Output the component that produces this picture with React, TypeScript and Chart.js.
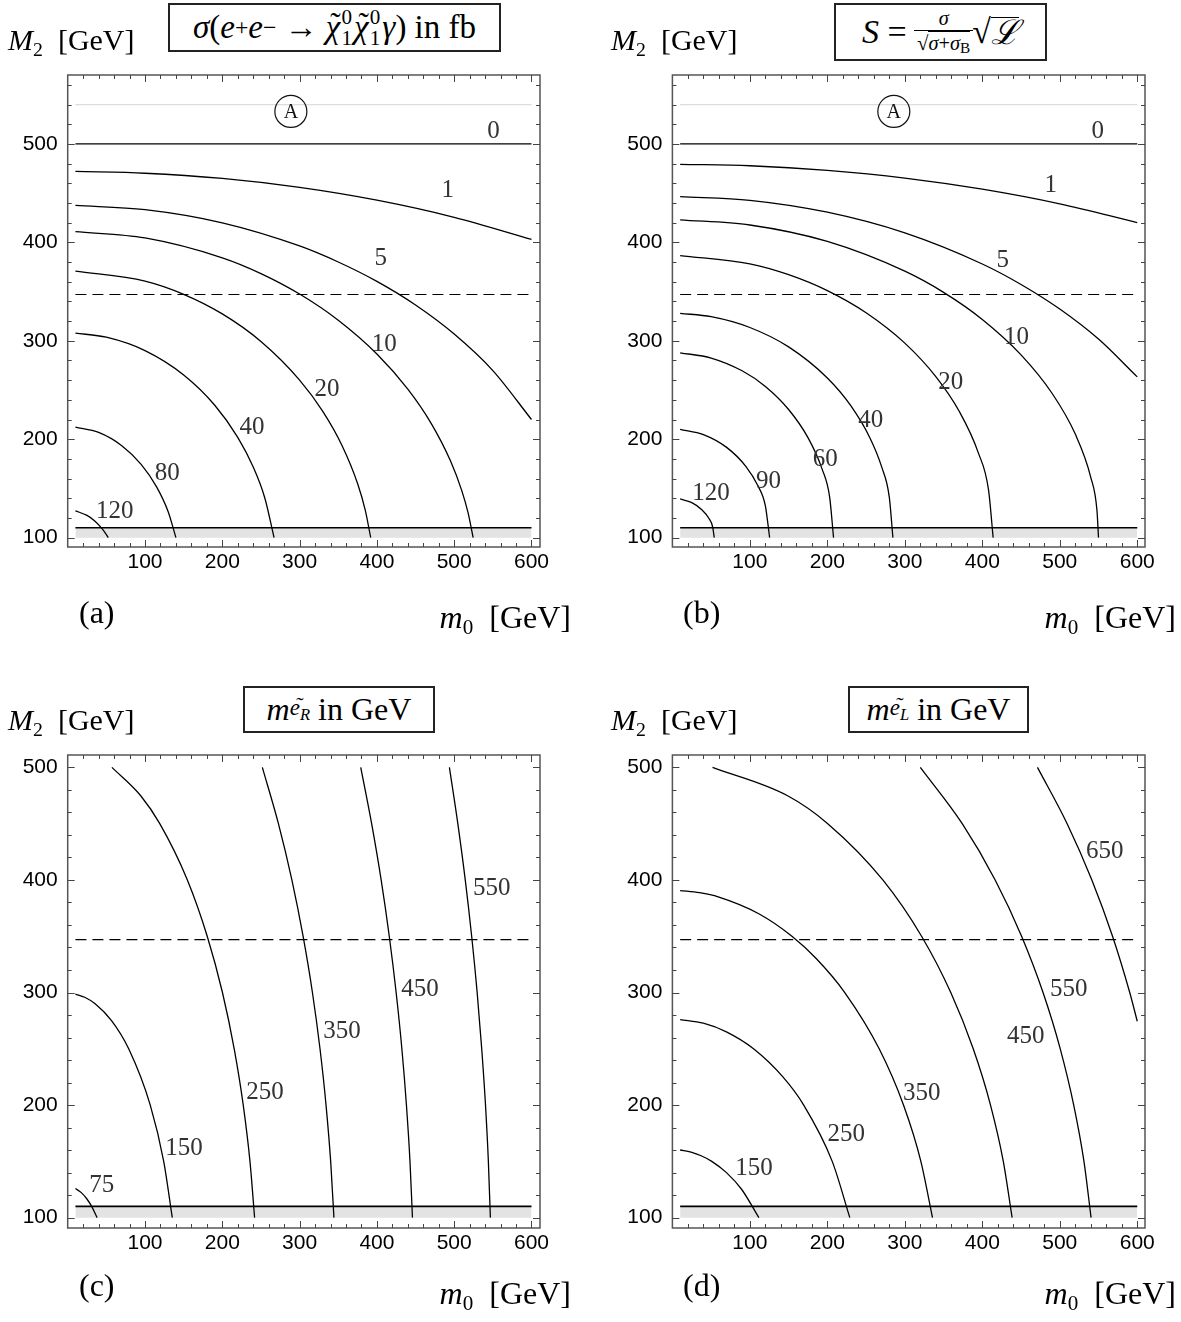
import React, { useEffect, useRef } from 'react';
import { Chart, registerables } from 'chart.js';

Chart.register(...registerables);

type Pt = [number, number];

// ---------------- axes ----------------
const X_TICKS = [100, 200, 300, 400, 500, 600];
const Y_TICKS = [100, 200, 300, 400, 500];

// ---------------- shared reference lines ----------------
const LINE_DASH: Pt[] = [[10, 347], [600, 347]];
const LINE_540: Pt[] = [[10, 540], [600, 540]];
const LINE_110: Pt[] = [[10, 110], [600, 110]];
const BAND_BASE = 100;

// ---------------- panel (a): sigma(e+e- -> chi chi gamma) in fb ----------------
const A_C0: Pt[] = [[10, 500], [600, 500]];
const A_C1: Pt[] = [[10, 472], [100, 470.2], [200, 464.9], [300, 455.8], [400, 442.8], [500, 425.4], [600, 403]];
const A_C5: Pt[] = [[10, 437.5], [100, 433.2], [200, 419.8], [300, 396.3], [350, 380], [400, 360.3], [450, 336.3], [500, 306.8], [550, 269.7], [600, 220]];
const A_C10: Pt[] = [[10, 410.9], [100, 404.5], [200, 384.3], [250, 368.3], [300, 347.5], [350, 320.9], [400, 286.6], [440, 250.9], [470, 216.4], [495, 178.3], [510, 147.3], [518, 125.1], [524.5, 100]];
const A_C20: Pt[] = [[10, 370.8], [100, 360.6], [150, 347.2], [200, 327.3], [250, 299.3], [300, 260.1], [330, 228.3], [355, 193.4], [375, 155], [385, 127.7], [392, 100]];
const A_C40: Pt[] = [[10, 307.8], [50, 303.6], [100, 290], [150, 265.3], [190, 234.8], [220, 201.9], [240, 171.7], [255, 140.3], [267, 100]];
const A_C80: Pt[] = [[10, 212.2], [40, 206.9], [70, 193.4], [95, 174.4], [115, 151.6], [130, 126.3], [140, 100]];
const A_C120: Pt[] = [[10, 127.2], [25, 122.6], [35, 117], [45, 108.7], [52.5, 100]];
const A_LABELS = ['0', '1', '5', '10', '20', '40', '80', '120'];
const A_LABEL_AT: Pt[] = [[551, 512.9], [491.7, 452.8], [405.1, 383.6], [409.5, 296.1], [335.3, 250.3], [238.3, 211.7], [128.9, 165.5], [60.8, 126.5]];
const A_CIRCLE_AT: Pt = [288.7, 533];

// ---------------- panel (b): significance S ----------------
const B_C0: Pt[] = [[10, 500], [600, 500]];
const B_C1: Pt[] = [[10, 479.3], [100, 477.8], [200, 473.1], [300, 465.3], [400, 454], [500, 439.1], [600, 420]];
const B_C5: Pt[] = [[10, 446.5], [100, 442.7], [200, 430.6], [300, 409.6], [400, 378], [450, 357.2], [500, 332.2], [550, 301.7], [600, 263.3]];
const B_C10: Pt[] = [[10, 422.9], [100, 417.6], [200, 400.9], [300, 370.7], [350, 349.2], [400, 321.7], [450, 285.7], [490, 246.7], [520, 205.2], [540, 161.3], [548, 127.6], [550, 100]];
const B_C20: Pt[] = [[10, 386.6], [100, 378.2], [150, 367.2], [200, 351], [250, 328.5], [300, 297.6], [340, 263.6], [370, 228.6], [395, 185.9], [408, 148.7], [414, 100]];
const B_C40: Pt[] = [[10, 327.9], [50, 324.5], [100, 313.5], [150, 293.8], [200, 262.2], [230, 234.3], [255, 201.3], [270, 172.1], [280, 140.9], [284.6, 100]];
const B_C60: Pt[] = [[10, 287.8], [50, 282.5], [90, 269.5], [120, 253.6], [150, 230.2], [175, 201.6], [193, 170.1], [203, 141], [208, 100]];
const B_C90: Pt[] = [[10, 210.1], [40, 204.7], [70, 191.7], [95, 172.2], [110, 153.2], [120, 132.3], [125.5, 100]];
const B_C120: Pt[] = [[10, 139.3], [25, 135.5], [38, 128.4], [47, 119.7], [52, 110.8], [54, 100]];
const B_LABELS = ['0', '1', '5', '10', '20', '40', '60', '90', '120'];
const B_LABEL_AT: Pt[] = [[549, 512.9], [488.4, 457.9], [426.5, 381.6], [444, 303.2], [359.4, 257.4], [256.1, 218.7], [197.4, 179.1], [124.1, 157], [49.7, 145.2]];
const B_CIRCLE_AT: Pt = [285.8, 533];

// ---------------- panel (c): m(e_R) in GeV ----------------
const C_C75: Pt[] = [[10, 125.9], [17.9, 122], [24.4, 117], [31, 110], [38, 100]];
const C_C150: Pt[] = [[10, 298.6], [22, 295.8], [35.5, 290], [56.7, 275], [78.9, 250], [106.8, 200], [124.2, 150], [135.3, 100]];
const C_C250: Pt[] = [[57.2, 500], [94.2, 475], [119.1, 450], [154.8, 400], [180.5, 350], [200.2, 300], [215.4, 250], [227.1, 200], [235.8, 150], [241.8, 100]];
const C_C350: Pt[] = [[251.8, 500], [272.6, 450], [290, 400], [304.5, 350], [316.6, 300], [326.4, 250], [334.2, 200], [340.2, 150], [344.4, 100]];
const C_C450: Pt[] = [[379.1, 500], [393.2, 450], [405.5, 400], [416, 350], [424.9, 300], [432.3, 250], [438.2, 200], [442.8, 150], [446, 100]];
const C_C550: Pt[] = [[493.8, 500], [504.7, 450], [514.3, 400], [522.6, 350], [529.7, 300], [535.6, 250], [540.5, 200], [544.2, 150], [546.8, 100]];
const C_LABELS = ['75', '150', '250', '350', '450', '550'];
const C_LABEL_AT: Pt[] = [[44, 129], [150.4, 161.7], [255.1, 210.8], [354.7, 265], [455.6, 302.4], [548.6, 392.2]];

// ---------------- panel (d): m(e_L) in GeV ----------------
const D_C150: Pt[] = [[10, 160.1], [24, 158.2], [37.1, 155], [50.8, 150], [69.8, 140], [89.5, 125], [111.6, 100]];
const D_C250: Pt[] = [[10, 276], [40, 272.7], [69.7, 265], [104.7, 250], [142.6, 225], [169.5, 200], [206.3, 150], [229, 100]];
const D_C350: Pt[] = [[10, 390.6], [35, 388.7], [59.1, 385], [111.5, 370], [154.3, 350], [185.9, 330], [222.5, 300], [266.9, 250], [298.3, 200], [320.7, 150], [335.7, 100]];
const D_C450: Pt[] = [[51.8, 500], [148.1, 475], [200.5, 450], [271.6, 400], [321.6, 350], [359.3, 300], [388.3, 250], [410.6, 200], [427.1, 150], [438.5, 100]];
const D_C550: Pt[] = [[320, 500], [374.1, 450], [416.6, 400], [450.7, 350], [478.4, 300], [500.6, 250], [518, 200], [531.2, 150], [540.4, 100]];
const D_C650: Pt[] = [[471.2, 500], [509.5, 450], [541.4, 400], [568.1, 350], [590.3, 300], [600, 274.5]];
const D_LABELS = ['150', '250', '350', '450', '550', '650'];
const D_LABEL_AT: Pt[] = [[105.2, 143.9], [224.3, 173.5], [322, 209.9], [456.1, 260.6], [511.6, 302.4], [558, 425]];

// ---------------- layout ----------------
interface PanelSpec {
  left: number; top: number; w: number; h: number;
  yAxisW: number; padR: number; padT: number; xAxisH: number;
  xMax: number; yMin: number; yMax: number; yMinorMax: number;
  curves: Pt[][]; labels: string[]; labelAt: Pt[]; circleAt: Pt | null; grayLine: boolean;
}

const PANELS: PanelSpec[] = [
  { left: 0, top: 0, w: 590, h: 660, yAxisW: 67.7, padR: 50, padT: 75, xAxisH: 113, xMax: 611, yMin: 90.5, yMax: 570, yMinorMax: 560,
    curves: [A_C0, A_C1, A_C5, A_C10, A_C20, A_C40, A_C80, A_C120], labels: A_LABELS, labelAt: A_LABEL_AT, circleAt: A_CIRCLE_AT, grayLine: true },
  { left: 590, top: 0, w: 591, h: 660, yAxisW: 82.4, padR: 36, padT: 75, xAxisH: 113, xMax: 610, yMin: 90.5, yMax: 570, yMinorMax: 560,
    curves: [B_C0, B_C1, B_C5, B_C10, B_C20, B_C40, B_C60, B_C90, B_C120], labels: B_LABELS, labelAt: B_LABEL_AT, circleAt: B_CIRCLE_AT, grayLine: true },
  { left: 0, top: 680, w: 590, h: 642, yAxisW: 67.7, padR: 50, padT: 75, xAxisH: 94, xMax: 611, yMin: 90.8, yMax: 511, yMinorMax: 500,
    curves: [C_C75, C_C150, C_C250, C_C350, C_C450, C_C550], labels: C_LABELS, labelAt: C_LABEL_AT, circleAt: null, grayLine: false },
  { left: 590, top: 680, w: 591, h: 642, yAxisW: 82.4, padR: 36, padT: 75, xAxisH: 94, xMax: 610, yMin: 90.8, yMax: 511, yMinorMax: 500,
    curves: [D_C150, D_C250, D_C350, D_C450, D_C550, D_C650], labels: D_LABELS, labelAt: D_LABEL_AT, circleAt: null, grayLine: false },
];

const SERIF = '"Liberation Serif", "DejaVu Serif", serif';
const SANS = '"Liberation Sans", Arial, sans-serif';

const toXY = (pts: Pt[]) => pts.map(([x, y]) => ({ x, y }));

function lineDs(pts: Pt[], extra: any = {}) {
  return {
    data: toXY(pts), showLine: true, pointRadius: 0, borderColor: '#000', borderWidth: 1.3,
    fill: false, cubicInterpolationMode: 'monotone', ...extra,
  };
}

function makeDecor(p: PanelSpec) {
  return {
    id: 'decor',
    afterDatasetsDraw(chart: any) {
      const { ctx, chartArea: ca, scales } = chart;
      const x = scales.x, y = scales.y;
      ctx.save();
      // contour labels
      ctx.font = `25px ${SERIF}`;
      ctx.fillStyle = '#333';
      ctx.textAlign = 'center';
      ctx.textBaseline = 'middle';
      p.labels.forEach((t, i) => {
        const [mx, my] = p.labelAt[i];
        ctx.fillText(t, x.getPixelForValue(mx), y.getPixelForValue(my));
      });
      // circled A
      if (p.circleAt) {
        const cx = x.getPixelForValue(p.circleAt[0]);
        const cy = y.getPixelForValue(p.circleAt[1]);
        ctx.beginPath();
        ctx.strokeStyle = '#111';
        ctx.lineWidth = 1.2;
        ctx.arc(cx, cy, 16, 0, Math.PI * 2);
        ctx.stroke();
        ctx.font = `20px ${SERIF}`;
        ctx.fillStyle = '#111';
        ctx.fillText('A', cx, cy + 1);
      }
      // frame
      ctx.strokeStyle = '#555';
      ctx.lineWidth = 1.5;
      ctx.strokeRect(ca.left, ca.top, ca.right - ca.left, ca.bottom - ca.top);
      // ticks (inward, all sides)
      ctx.lineWidth = 1;
      ctx.strokeStyle = '#444';
      ctx.beginPath();
      for (let v = 20; v <= 600; v += 20) {
        const px = Math.round(x.getPixelForValue(v)) + 0.5;
        const len = v % 100 === 0 ? 7 : 4;
        ctx.moveTo(px, ca.bottom); ctx.lineTo(px, ca.bottom - len);
        ctx.moveTo(px, ca.top); ctx.lineTo(px, ca.top + len);
      }
      for (let v = 100; v <= p.yMinorMax; v += 20) {
        const py = Math.round(y.getPixelForValue(v)) + 0.5;
        const len = v % 100 === 0 ? 7 : 4;
        ctx.moveTo(ca.left, py); ctx.lineTo(ca.left + len, py);
        ctx.moveTo(ca.right, py); ctx.lineTo(ca.right - len, py);
      }
      ctx.stroke();
      ctx.restore();
    },
  };
}

function makeConfig(p: PanelSpec): any {
  const datasets: any[] = p.curves.map((c) => lineDs(c));
  datasets.push(lineDs(LINE_DASH, { borderDash: [11, 6], borderWidth: 1.1, cubicInterpolationMode: 'default', tension: 0 }));
  if (p.grayLine) datasets.push(lineDs(LINE_540, { borderColor: '#dcdcdc', borderWidth: 1.2, tension: 0, cubicInterpolationMode: 'default' }));
  datasets.push(lineDs(LINE_110, {
    borderWidth: 1.6, tension: 0, cubicInterpolationMode: 'default',
    fill: { value: BAND_BASE }, backgroundColor: '#e3e3e3',
  }));
  return {
    type: 'scatter',
    data: { datasets },
    options: {
      responsive: false,
      animation: false,
      events: [],
      layout: { padding: { left: 0, top: p.padT, right: p.padR, bottom: 0 } },
      plugins: { legend: { display: false }, tooltip: { enabled: false }, title: { display: false } },
      scales: {
        x: {
          type: 'linear', min: 0, max: p.xMax,
          grid: { display: false, drawTicks: false }, border: { display: false },
          ticks: { color: '#000', font: { family: SANS, size: 21 }, padding: 3, maxRotation: 0, autoSkip: false },
          afterBuildTicks: (s: any) => { s.ticks = X_TICKS.map((v) => ({ value: v })); },
          afterFit: (s: any) => { s.height = p.xAxisH; },
        },
        y: {
          type: 'linear', min: p.yMin, max: p.yMax,
          grid: { display: false, drawTicks: false }, border: { display: false },
          ticks: { color: '#000', font: { family: SANS, size: 21 }, padding: 10, autoSkip: false },
          afterBuildTicks: (s: any) => { s.ticks = Y_TICKS.map((v) => ({ value: v })); },
          afterFit: (s: any) => { s.width = p.yAxisW; },
        },
      },
    },
    plugins: [makeDecor(p)],
  };
}

// ---------------- HTML text helpers ----------------
const abs = (extra: any): React.CSSProperties => ({
  position: 'absolute', font: `30px ${SERIF}`, lineHeight: '30px', whiteSpace: 'nowrap', color: '#000', ...extra,
});
const Sub = ({ children, size = 0.66, drop = -0.28 }: any) => (
  <span style={{ fontSize: `${size}em`, verticalAlign: `${drop}em` }}>{children}</span>
);
const Sup = ({ children }: any) => (
  <span style={{ fontSize: '0.72em', verticalAlign: '0.55em' }}>{children}</span>
);
const SupSub = ({ sup, sub }: any) => (
  <span style={{ display: 'inline-flex', flexDirection: 'column', fontSize: '0.64em', lineHeight: '0.95em', verticalAlign: '0.62em', margin: '0 0.1em 0 0.05em' }}>
    <span>{sup}</span>
    <span>{sub}</span>
  </span>
);
const Chi = () => (
  <span style={{ position: 'relative', display: 'inline-block' }}>
    <i>χ</i>
    <span style={{ position: 'absolute', left: '0.14em', top: '-0.02em', lineHeight: 1, fontSize: '0.95em' }}>˜</span>
  </span>
);
const ETilde = () => (
  <span style={{ position: 'relative', display: 'inline-block' }}>
    <i>e</i>
    <span style={{ position: 'absolute', left: '0.3em', top: '0.04em', lineHeight: 1, fontSize: '0.95em' }}>˜</span>
  </span>
);

const M2Label = ({ left, top }: any) => (
  <div style={abs({ left, top })}><i>M</i><Sub>2</Sub>&nbsp; [GeV]</div>
);
const M0Label = ({ right, top }: any) => (
  <div style={abs({ right, top, fontSize: 32 })}><i>m</i><Sub>0</Sub>&nbsp; [GeV]</div>
);
const boxStyle = (left: number, top: number, width: number, height: number, size = 32): React.CSSProperties => ({
  position: 'absolute', left, top, width, height, border: '2px solid #222', boxSizing: 'border-box',
  display: 'flex', alignItems: 'center', justifyContent: 'center', font: `${size}px ${SERIF}`, whiteSpace: 'nowrap',
  background: '#fff',
});

export default function App() {
  const refs = [useRef<HTMLCanvasElement>(null), useRef<HTMLCanvasElement>(null), useRef<HTMLCanvasElement>(null), useRef<HTMLCanvasElement>(null)];

  useEffect(() => {
    const charts = PANELS.map((p, i) => new Chart(refs[i].current as HTMLCanvasElement, makeConfig(p)));
    return () => charts.forEach((c) => c.destroy());
  }, []);

  return (
    <div style={{ position: 'absolute', left: 0, top: 0, width: 1181, height: 1322, background: '#fff', overflow: 'hidden' }}>
      {PANELS.map((p, i) => (
        <canvas key={i} ref={refs[i]} width={p.w} height={p.h}
          style={{ position: 'absolute', left: p.left, top: p.top, width: p.w, height: p.h }} />
      ))}

      {/* panel (a) texts */}
      <M2Label left={8} top={25} />
      <div style={boxStyle(168, 3, 333, 49, 33)}>
        <i>σ</i>(<i>e</i><Sup>+</Sup><i>e</i><Sup>−</Sup>&nbsp;→&nbsp;<Chi /><SupSub sup="0" sub="1" /><Chi /><SupSub sup="0" sub="1" /><i>γ</i>) in fb
      </div>
      <div style={abs({ left: 79, top: 597, fontSize: 32 })}>(a)</div>
      <M0Label right={610} top={602} />

      {/* panel (b) texts */}
      <M2Label left={611} top={25} />
      <div style={boxStyle(834, 3, 213, 58, 34)}>
        <i>S</i>&nbsp;=&nbsp;
        <span style={{ display: 'inline-flex', flexDirection: 'column', alignItems: 'center', verticalAlign: 'middle', fontSize: '0.6em', margin: '0 2px' }}>
          <span style={{ borderBottom: '1.5px solid #000', padding: '0 3px', lineHeight: 1.15, width: '100%', textAlign: 'center' }}><i>σ</i></span>
          <span style={{ lineHeight: 1.25 }}>√<span style={{ borderTop: '1px solid #000' }}><i>σ</i>+<i>σ</i><Sub size={0.75} drop={-0.2}>B</Sub></span></span>
        </span>
        <span>√</span><span style={{ borderTop: '1.5px solid #000', lineHeight: '30px' }}><i>ℒ</i></span>
      </div>
      <div style={abs({ left: 683, top: 597, fontSize: 32 })}>(b)</div>
      <M0Label right={5} top={602} />

      {/* panel (c) texts */}
      <M2Label left={8} top={705} />
      <div style={boxStyle(243, 686, 192, 47, 32)}>
        <i>m</i><Sub size={0.72} drop={-0.3}><ETilde /><Sub size={0.72} drop={-0.3}><i>R</i></Sub></Sub>&nbsp;in GeV
      </div>
      <div style={abs({ left: 79, top: 1270, fontSize: 32 })}>(c)</div>
      <M0Label right={610} top={1278} />

      {/* panel (d) texts */}
      <M2Label left={611} top={705} />
      <div style={boxStyle(848, 686, 181, 47, 32)}>
        <i>m</i><Sub size={0.72} drop={-0.3}><ETilde /><Sub size={0.72} drop={-0.3}><i>L</i></Sub></Sub>&nbsp;in GeV
      </div>
      <div style={abs({ left: 683, top: 1270, fontSize: 32 })}>(d)</div>
      <M0Label right={5} top={1278} />
    </div>
  );
}
